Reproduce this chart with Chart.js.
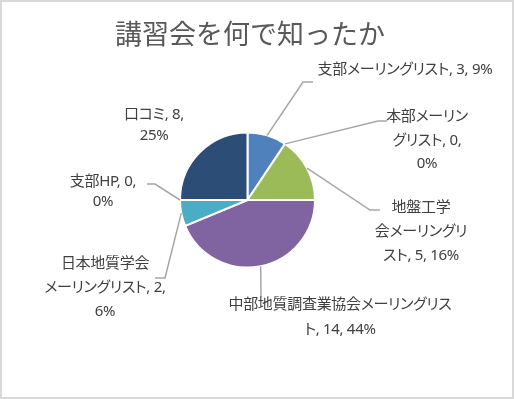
<!DOCTYPE html>
<html lang="ja">
<head>
<meta charset="utf-8">
<script src="https://cdn.jsdelivr.net/npm/chart.js@4.4.0/dist/chart.umd.min.js"></script>
<style>
  html, body { margin: 0; padding: 0; background: #fff; }
  #wrap { position: relative; width: 514px; height: 399px; box-sizing: border-box; border: 2px solid #d9d9d9; overflow: hidden; }
  #chart { position: absolute; left: -2px; top: -2px; }
  .lbl {
    position: absolute; transform: translateX(-50%); white-space: nowrap; text-align: center;
    font-family: "Noto Sans", "Noto Sans CJK JP", sans-serif; font-size: 15px; color: #404040;
    letter-spacing: -0.3px; font-feature-settings: "palt";
  }
</style>
</head>
<body>
<div id="wrap">
  <canvas id="chart" width="514" height="399"></canvas>
</div>
<script>
const chartTitle = '講習会を何で知ったか';
const categories = [
    '支部メーリングリスト', '本部メーリングリスト', '地盤工学会メーリングリスト',
    '中部地質調査業協会メーリングリスト', '日本地質学会メーリングリスト', '支部HP', '口コミ'
];
const counts = [3, 0, 5, 14, 2, 0, 8];
const sliceColors = ['#4f81bd', '#c0504d', '#9bbb59', '#8064a2', '#4bacc6', '#f79646', '#2c4d75'];

// label layout: centre x, first line centre y, line height, break points in the label text
const labelLayout = [
    { x: 405, y: 68, lh: 24, breaks: [] },
    { x: 427, y: 116, lh: 23.5, breaks: [6, 14] },
    { x: 421, y: 206, lh: 24, breaks: [4, 11] },
    { x: 340, y: 303, lh: 25, breaks: [16] },
    { x: 105, y: 262, lh: 24, breaks: [6, 18] },
    { x: 103, y: 180, lh: 20, breaks: [8] },
    { x: 154, y: 113, lh: 21, breaks: [7] }
];
// leader line bends after leaving the slice edge
const leaderBends = [
    [[303, 82], [313, 82]],
    [[378, 121], [387, 121]],
    [[370, 210], [380, 210]],
    [[261, 297]],
    [[165, 278], [155, 278]],
    [[155, 184], [147, 184]],
    []
];

const total = counts.reduce((a, b) => a + b, 0);
const percents = counts.map(v => Math.round(v / total * 100));

const leaderLines = {
    id: 'leaderLines',
    afterDatasetsDraw(chart) {
        const ctx = chart.ctx;
        const arcs = chart.getDatasetMeta(0).data;
        ctx.save();
        ctx.strokeStyle = '#a6a6a6';
        ctx.lineWidth = 1.5;
        arcs.forEach((arc, i) => {
            const bends = leaderBends[i];
            if (!bends.length) return;
            const mid = (arc.startAngle + arc.endAngle) / 2;
            const r = arc.outerRadius;
            ctx.beginPath();
            ctx.moveTo(arc.x + Math.cos(mid) * r, arc.y + Math.sin(mid) * r);
            bends.forEach(p => ctx.lineTo(p[0], p[1]));
            ctx.stroke();
        });
        // title
        ctx.fillStyle = '#595959';
        ctx.font = '27px "Noto Sans CJK JP", sans-serif';
        ctx.textAlign = 'center';
        ctx.textBaseline = 'middle';
        ctx.fillText(chartTitle, 250, 34);
        ctx.restore();
    }
};

new Chart(document.getElementById('chart'), {
    type: 'pie',
    data: {
        labels: categories,
        datasets: [{
            data: counts,
            backgroundColor: sliceColors,
            borderColor: '#ffffff',
            borderWidth: 2
        }]
    },
    options: {
        responsive: false,
        animation: false,
        layout: { padding: { left: 179, right: 198, top: 131.5, bottom: 130.5 } },
        plugins: {
            legend: { display: false },
            tooltip: { enabled: false },
            title: { display: false }
        }
    },
    plugins: [leaderLines]
});

const wrap = document.getElementById('wrap');
categories.forEach((name, i) => {
    const text = `${name}, ${counts[i]}, ${percents[i]}%`;
    const lay = labelLayout[i];
    const cuts = [0, ...lay.breaks, text.length];
    const lines = [];
    for (let k = 0; k < cuts.length - 1; k++) lines.push(text.slice(cuts[k], cuts[k + 1]).trim());
    const div = document.createElement('div');
    div.className = 'lbl';
    div.style.left = (lay.x - 2) + 'px';
    div.style.top = (lay.y - 2 - lay.lh / 2) + 'px';
    div.style.lineHeight = lay.lh + 'px';
    div.innerHTML = lines.join('<br>');
    wrap.appendChild(div);
});
</script>
</body>
</html>
